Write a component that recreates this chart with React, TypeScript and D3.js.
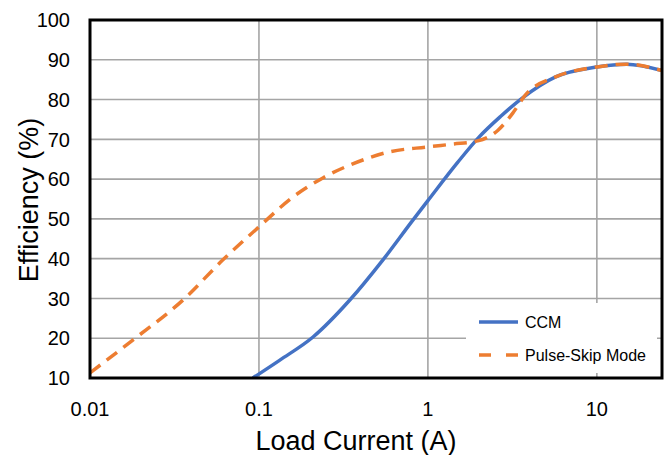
import React from "react";
import * as d3 from "d3";

const ccmCurrent = [0.092, 0.133, 0.209, 0.345, 0.542, 0.815, 1.0, 1.5, 2.0, 2.7, 3.6, 5.7, 10, 15, 24.3];
const ccmEff = [10, 14.5, 20.3, 29.6, 39.7, 49.7, 54.6, 64.2, 70.5, 75.8, 80.3, 85.7, 88.2, 88.9, 87.3];

const psmCurrent = [0.01, 0.018, 0.0355, 0.0612, 0.1, 0.159, 0.239, 0.412, 0.571, 1.0, 1.4, 1.97, 2.6, 3.18, 3.75, 5.7, 10, 15, 24.3];
const psmEff = [11.3, 19.6, 29.6, 39.7, 48, 55.5, 60.3, 64.8, 66.7, 68.1, 68.8, 69.6, 72.3, 76.6, 81, 85.7, 88.2, 88.9, 87.3];

const xTicks = [0.01, 0.1, 1, 10];
const xTickLabels = ["0.01", "0.1", "1", "10"];
const yTicks = [10, 20, 30, 40, 50, 60, 70, 80, 90, 100];

const seriesNames = ["CCM", "Pulse-Skip Mode"];
const colors = ["#4472C4", "#ED7D31"];

export default function App() {
  const W = 667, H = 455;
  const left = 90, right = 662, top = 20, bottom = 378;
  const x = d3.scaleLog().domain([0.01, 24.3]).range([left, right]);
  const y = d3.scaleLinear().domain([10, 100]).range([bottom, top]);
  const font = "'Liberation Sans', Arial, Helvetica, sans-serif";

  const line = d3
    .line<[number, number]>()
    .x((d) => x(d[0]))
    .y((d) => y(d[1]))
    .curve(d3.curveMonotoneX);

  const ccm = ccmCurrent.map((c, i) => [c, ccmEff[i]] as [number, number]);
  const psm = psmCurrent.map((c, i) => [c, psmEff[i]] as [number, number]);

  return (
    <svg
      width={W}
      height={H}
      style={{ position: "absolute", left: 0, top: 0, display: "block", background: "#fff" }}
      fontFamily={font}
    >
      <defs>
        <clipPath id="plotclip">
          <rect x={left} y={top} width={right - left} height={bottom - top} />
        </clipPath>
      </defs>
      {yTicks.slice(1, -1).map((t) => (
        <line key={"gy" + t} x1={left} x2={right} y1={y(t)} y2={y(t)} stroke="#A5A5A5" strokeWidth={1.6} />
      ))}
      {xTicks.slice(1).map((t) => (
        <line key={"gx" + t} x1={x(t)} x2={x(t)} y1={top} y2={bottom} stroke="#A5A5A5" strokeWidth={1.6} />
      ))}
      <rect x={466} y={303} width={191} height={70} fill="#fff" />
      <g clipPath="url(#plotclip)">
        <path d={line(ccm) || ""} fill="none" stroke={colors[0]} strokeWidth={3.5} />
        <path d={line(psm) || ""} fill="none" stroke={colors[1]} strokeWidth={3.5} strokeDasharray="13,8" />
      </g>
      <rect x={left} y={top} width={right - left} height={bottom - top} fill="none" stroke="#000" strokeWidth={3} />
      {yTicks.map((t) => (
        <text key={"ty" + t} x={70} y={y(t)} dy="0.36em" textAnchor="end" fontSize={20} fill="#000">
          {t}
        </text>
      ))}
      {xTicks.map((t, i) => (
        <text key={"tx" + t} x={x(t)} y={416} textAnchor="middle" fontSize={20} fill="#000">
          {xTickLabels[i]}
        </text>
      ))}
      <text x={356} y={450} textAnchor="middle" fontSize={27} fill="#000">
        Load Current (A)
      </text>
      <text transform={`translate(38,200) rotate(-90)`} textAnchor="middle" fontSize={27} fill="#000">
        Efficiency (%)
      </text>
      <line x1={479} x2={518} y1={322} y2={322} stroke={colors[0]} strokeWidth={3.5} />
      <text x={525} y={322} dy="0.36em" fontSize={16} fill="#000">
        {seriesNames[0]}
      </text>
      <line x1={479} x2={518} y1={355} y2={355} stroke={colors[1]} strokeWidth={3.5} strokeDasharray="12,15" />
      <text x={525} y={355} dy="0.36em" fontSize={16} fill="#000">
        {seriesNames[1]}
      </text>
    </svg>
  );
}
